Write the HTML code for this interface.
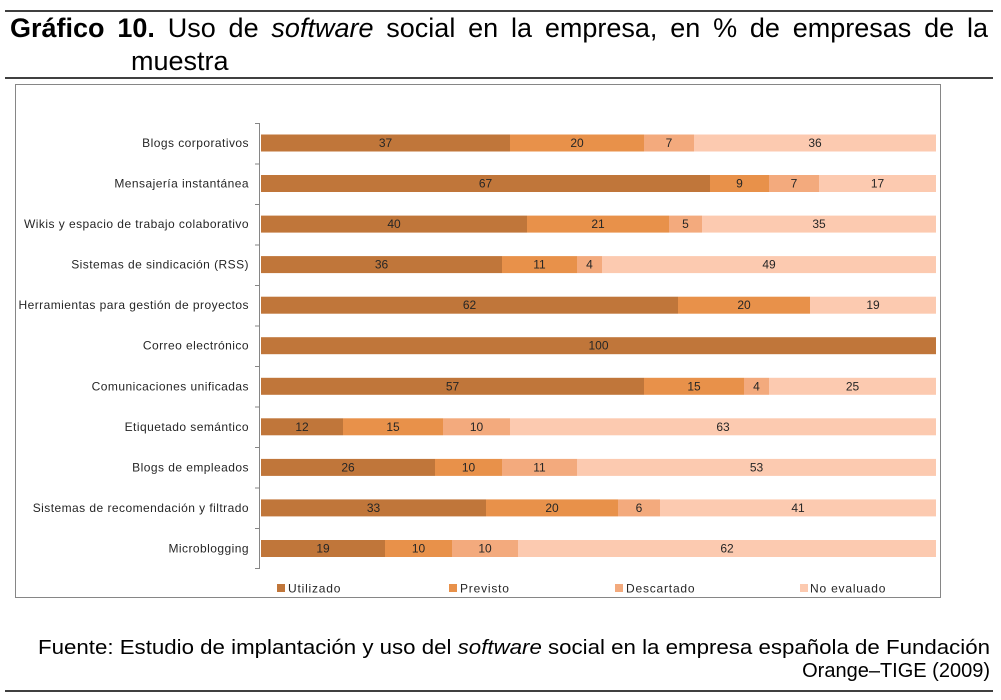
<!DOCTYPE html>
<html><head><meta charset="utf-8">
<style>
html,body{margin:0;padding:0;background:#fff;}
body{width:1001px;height:700px;position:relative;overflow:hidden;}
#title{position:absolute;left:10px;top:12px;width:857px;padding-left:121px;text-indent:-121px;
font-family:"Liberation Sans",Arial,sans-serif;font-size:27px;line-height:33px;text-align:justify;color:#000;}
svg{position:absolute;left:0;top:0;}
.lab{font-family:"Liberation Sans",Arial,sans-serif;font-size:12px;letter-spacing:0.45px;fill:#262626;text-anchor:end;}
.v{font-family:"Liberation Sans",Arial,sans-serif;font-size:12px;fill:#262626;text-anchor:middle;}
.lg{font-family:"Liberation Sans",Arial,sans-serif;font-size:12px;letter-spacing:0.8px;fill:#262626;}
.ft{font-family:"Liberation Sans",Arial,sans-serif;font-size:20px;fill:#000;}
</style></head>
<body>
<svg width="1001" height="700" viewBox="0 0 1001 700">
<rect x="0" y="0" width="1001" height="700" fill="#fff"/>
<line x1="5" y1="11" x2="993" y2="11" stroke="#000" stroke-width="1.5"/>
<line x1="5" y1="78" x2="993" y2="78" stroke="#000" stroke-width="1.5"/>
<rect x="15.5" y="84.5" width="925" height="513" fill="none" stroke="#868686" stroke-width="1"/>

<!-- axis -->
<g stroke="#868686" stroke-width="1">
<line x1="259.5" y1="123" x2="259.5" y2="569"/>
<line x1="255" y1="123.5" x2="259.5" y2="123.5"/>
<line x1="255" y1="164" x2="259.5" y2="164"/>
<line x1="255" y1="204.5" x2="259.5" y2="204.5"/>
<line x1="255" y1="245" x2="259.5" y2="245"/>
<line x1="255" y1="285.5" x2="259.5" y2="285.5"/>
<line x1="255" y1="326" x2="259.5" y2="326"/>
<line x1="255" y1="366.5" x2="259.5" y2="366.5"/>
<line x1="255" y1="407" x2="259.5" y2="407"/>
<line x1="255" y1="447.5" x2="259.5" y2="447.5"/>
<line x1="255" y1="488" x2="259.5" y2="488"/>
<line x1="255" y1="528.5" x2="259.5" y2="528.5"/>
<line x1="255" y1="568.5" x2="259.5" y2="568.5"/>
</g>

<!-- labels -->
<text class="lab" x="249" y="147">Blogs corporativos</text>
<text class="lab" x="249" y="187.5">Mensajería instantánea</text>
<text class="lab" x="249" y="228">Wikis y espacio de trabajo colaborativo</text>
<text class="lab" x="249" y="268.6">Sistemas de sindicación (RSS)</text>
<text class="lab" x="249" y="309.2">Herramientas para gestión de proyectos</text>
<text class="lab" x="249" y="349.7">Correo electrónico</text>
<text class="lab" x="249" y="390.3">Comunicaciones unificadas</text>
<text class="lab" x="249" y="430.8">Etiquetado semántico</text>
<text class="lab" x="249" y="471.4">Blogs de empleados</text>
<text class="lab" x="249" y="511.9">Sistemas de recomendación y filtrado</text>
<text class="lab" x="249" y="552.5">Microblogging</text>

<!-- bars -->
<g>
<!-- row0 -->
<rect x="261" y="134.5" width="249" height="17" fill="#C0763A"/>
<rect x="510" y="134.5" width="134" height="17" fill="#E8914A"/>
<rect x="644" y="134.5" width="50" height="17" fill="#F3AA7D"/>
<rect x="694" y="134.5" width="242" height="17" fill="#FCCAB0"/>
<!-- row1 -->
<rect x="261" y="175" width="449" height="17" fill="#C0763A"/>
<rect x="710" y="175" width="59" height="17" fill="#E8914A"/>
<rect x="769" y="175" width="50" height="17" fill="#F3AA7D"/>
<rect x="819" y="175" width="117" height="17" fill="#FCCAB0"/>
<!-- row2 -->
<rect x="261" y="215.6" width="266" height="17" fill="#C0763A"/>
<rect x="527" y="215.6" width="142" height="17" fill="#E8914A"/>
<rect x="669" y="215.6" width="33" height="17" fill="#F3AA7D"/>
<rect x="702" y="215.6" width="234" height="17" fill="#FCCAB0"/>
<!-- row3 -->
<rect x="261" y="256.1" width="241" height="17" fill="#C0763A"/>
<rect x="502" y="256.1" width="75" height="17" fill="#E8914A"/>
<rect x="577" y="256.1" width="25" height="17" fill="#F3AA7D"/>
<rect x="602" y="256.1" width="334" height="17" fill="#FCCAB0"/>
<!-- row4 -->
<rect x="261" y="296.7" width="417" height="17" fill="#C0763A"/>
<rect x="678" y="296.7" width="132" height="17" fill="#E8914A"/>
<rect x="810" y="296.7" width="126" height="17" fill="#FCCAB0"/>
<!-- row5 -->
<rect x="261" y="337.2" width="675" height="17" fill="#C0763A"/>
<!-- row6 -->
<rect x="261" y="377.8" width="383" height="17" fill="#C0763A"/>
<rect x="644" y="377.8" width="100" height="17" fill="#E8914A"/>
<rect x="744" y="377.8" width="25" height="17" fill="#F3AA7D"/>
<rect x="769" y="377.8" width="167" height="17" fill="#FCCAB0"/>
<!-- row7 -->
<rect x="261" y="418.3" width="82" height="17" fill="#C0763A"/>
<rect x="343" y="418.3" width="100" height="17" fill="#E8914A"/>
<rect x="443" y="418.3" width="67" height="17" fill="#F3AA7D"/>
<rect x="510" y="418.3" width="426" height="17" fill="#FCCAB0"/>
<!-- row8 -->
<rect x="261" y="458.9" width="174" height="17" fill="#C0763A"/>
<rect x="435" y="458.9" width="67" height="17" fill="#E8914A"/>
<rect x="502" y="458.9" width="75" height="17" fill="#F3AA7D"/>
<rect x="577" y="458.9" width="359" height="17" fill="#FCCAB0"/>
<!-- row9 -->
<rect x="261" y="499.4" width="225" height="17" fill="#C0763A"/>
<rect x="486" y="499.4" width="132" height="17" fill="#E8914A"/>
<rect x="618" y="499.4" width="42" height="17" fill="#F3AA7D"/>
<rect x="660" y="499.4" width="276" height="17" fill="#FCCAB0"/>
<!-- row10 -->
<rect x="261" y="540" width="124" height="17" fill="#C0763A"/>
<rect x="385" y="540" width="67" height="17" fill="#E8914A"/>
<rect x="452" y="540" width="66" height="17" fill="#F3AA7D"/>
<rect x="518" y="540" width="418" height="17" fill="#FCCAB0"/>
</g>

<!-- values -->
<g>
<text class="v" x="385.5" y="147">37</text><text class="v" x="577" y="147">20</text><text class="v" x="669" y="147">7</text><text class="v" x="815" y="147">36</text>
<text class="v" x="485.5" y="187.5">67</text><text class="v" x="739.5" y="187.5">9</text><text class="v" x="794" y="187.5">7</text><text class="v" x="877.5" y="187.5">17</text>
<text class="v" x="394" y="228">40</text><text class="v" x="598" y="228">21</text><text class="v" x="685.5" y="228">5</text><text class="v" x="819" y="228">35</text>
<text class="v" x="381.5" y="268.6">36</text><text class="v" x="539.5" y="268.6">11</text><text class="v" x="589.5" y="268.6">4</text><text class="v" x="769" y="268.6">49</text>
<text class="v" x="469.5" y="309.2">62</text><text class="v" x="744" y="309.2">20</text><text class="v" x="873" y="309.2">19</text>
<text class="v" x="598.5" y="349.7">100</text>
<text class="v" x="452.5" y="390.3">57</text><text class="v" x="694" y="390.3">15</text><text class="v" x="756.5" y="390.3">4</text><text class="v" x="852.5" y="390.3">25</text>
<text class="v" x="302" y="430.8">12</text><text class="v" x="393" y="430.8">15</text><text class="v" x="476.5" y="430.8">10</text><text class="v" x="723" y="430.8">63</text>
<text class="v" x="348" y="471.4">26</text><text class="v" x="468.5" y="471.4">10</text><text class="v" x="539.5" y="471.4">11</text><text class="v" x="756.5" y="471.4">53</text>
<text class="v" x="373.5" y="511.9">33</text><text class="v" x="552" y="511.9">20</text><text class="v" x="639" y="511.9">6</text><text class="v" x="798" y="511.9">41</text>
<text class="v" x="323" y="552.5">19</text><text class="v" x="418.5" y="552.5">10</text><text class="v" x="485" y="552.5">10</text><text class="v" x="727" y="552.5">62</text>
</g>

<!-- legend -->
<rect x="277" y="584" width="8" height="8" fill="#C0763A"/>
<text class="lg" x="288" y="592.5">Utilizado</text>
<rect x="449" y="584" width="8" height="8" fill="#E8914A"/>
<text class="lg" x="460" y="592.5">Previsto</text>
<rect x="615" y="584" width="8" height="8" fill="#F3AA7D"/>
<text class="lg" x="626" y="592.5">Descartado</text>
<rect x="800" y="584" width="8" height="8" fill="#FCCAB0"/>
<text class="lg" x="810" y="592.5">No evaluado</text>

<!-- footer -->
<text class="ft" x="38" y="654" textLength="952" lengthAdjust="spacingAndGlyphs">Fuente: Estudio de implantación y uso del <tspan font-style="italic">software</tspan> social en la empresa española de Fundación</text>
<text class="ft" x="990" y="677" text-anchor="end">Orange–TIGE (2009)</text>
<line x1="5" y1="691" x2="993" y2="691" stroke="#000" stroke-width="1.5"/>
</svg>
<div id="title"><b>Gráfico 10.</b> Uso de <i>software</i> social en la empresa, en % de empresas de la muestra</div>
</body></html>
